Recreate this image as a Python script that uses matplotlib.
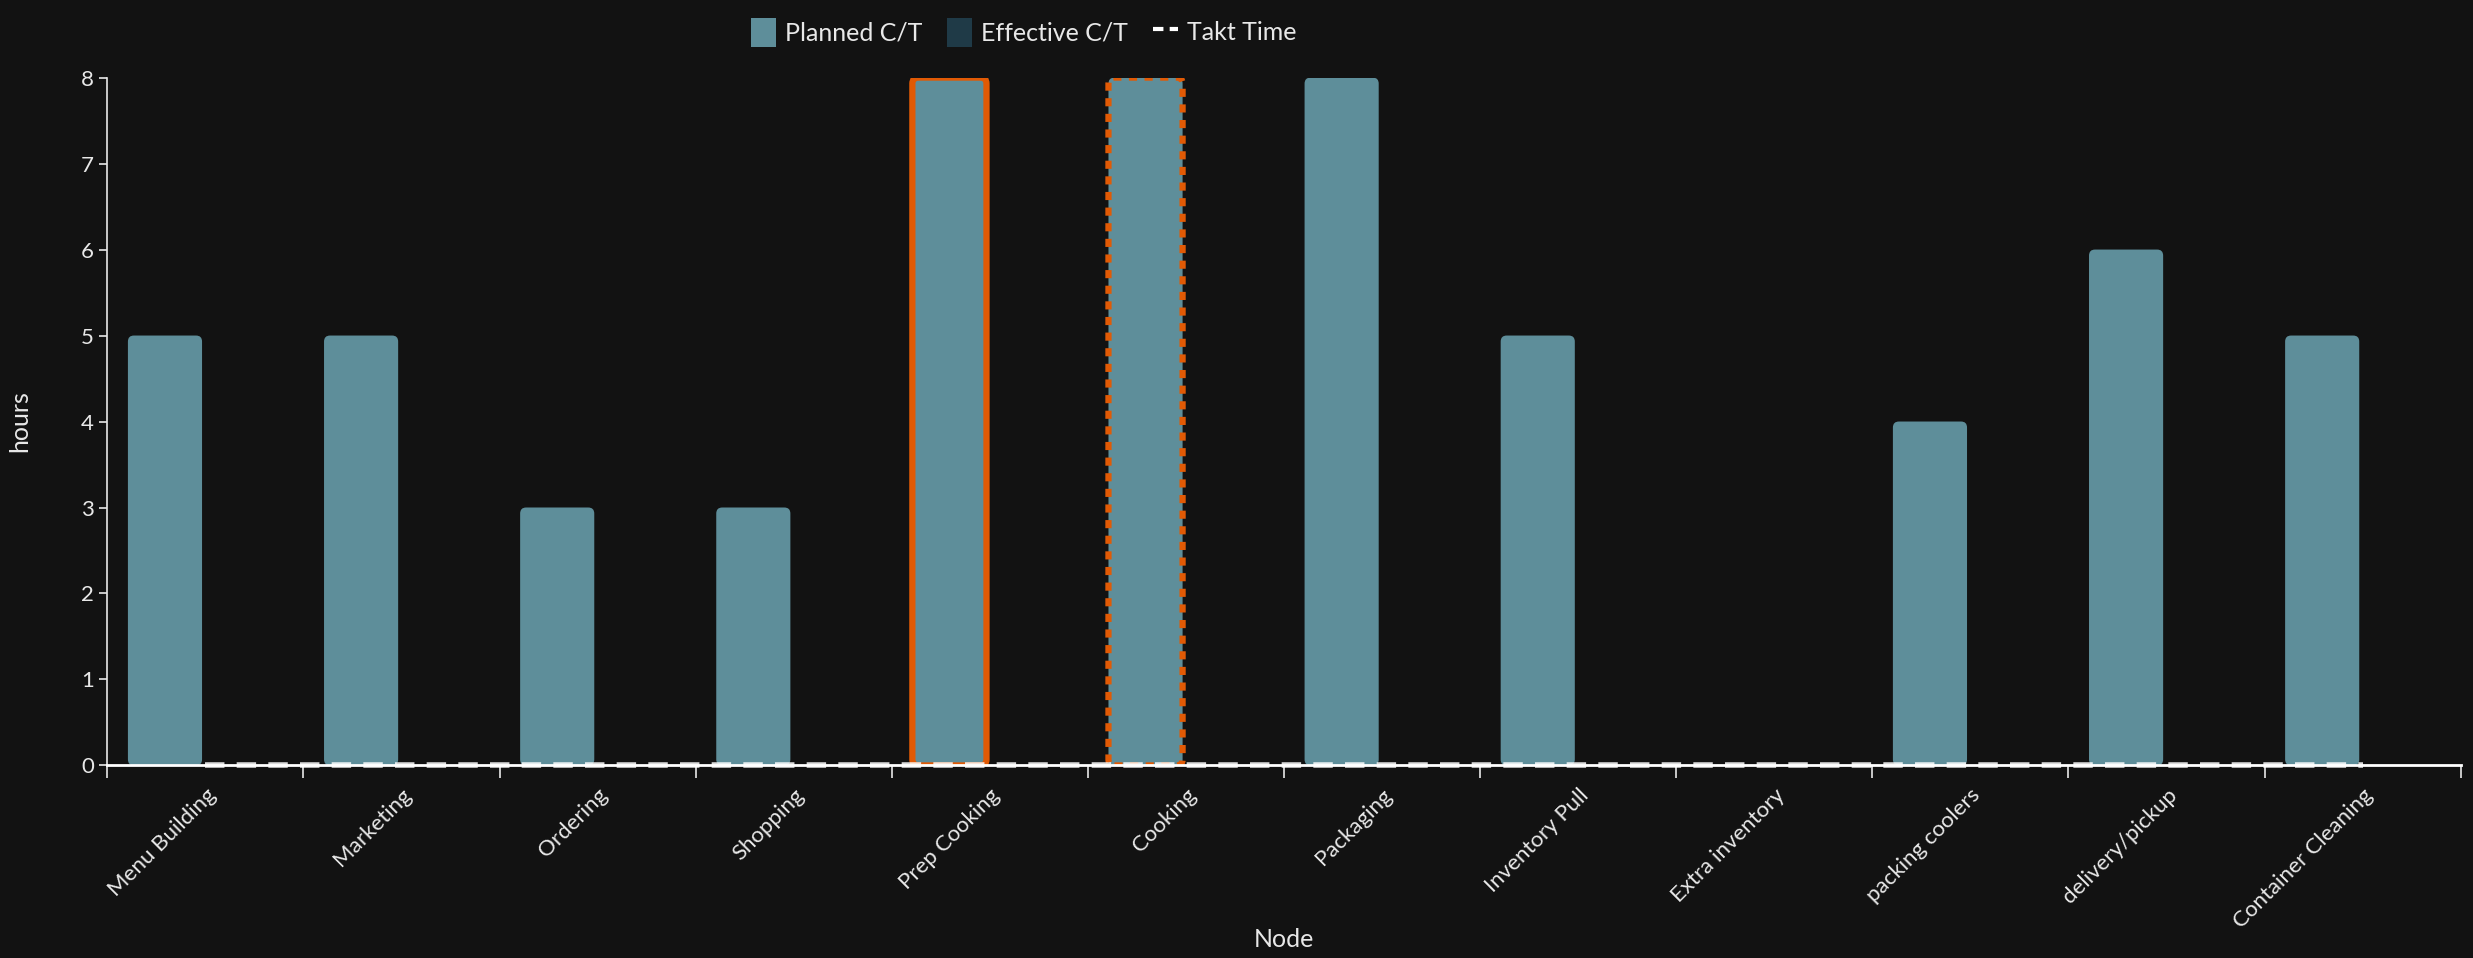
import numpy as np
import matplotlib
matplotlib.use("Agg")
import matplotlib.pyplot as plt
from matplotlib.patches import FancyBboxPatch, Patch
from matplotlib.lines import Line2D

plt.rcParams['font.family'] = ['Lato', 'DejaVu Sans']

nodes = ["Menu Building", "Marketing", "Ordering", "Shopping", "Prep Cooking",
         "Cooking", "Packaging", "Inventory Pull", "Extra inventory",
         "packing coolers", "delivery/pickup", "Container Cleaning"]
planned_ct = [5, 5, 3, 3, 8, 8, 8, 5, 0, 4, 6, 5]
effective_ct = [0, 0, 0, 0, 0, 0, 0, 0, 0, 0, 0, 0]
takt_time = [0, 0, 0, 0, 0, 0, 0, 0, 0, 0, 0, 0]
bottleneck = "Prep Cooking"
near_bottleneck = "Cooking"

BG = "#121212"
PLANNED = "#5e8e9a"
EFFECTIVE = "#1f3a47"
ALERT = "#e15a05"
FG = "#e8e8e8"

fig = plt.figure(figsize=(24.73, 9.58), dpi=100, facecolor=BG)
ax = fig.add_axes([0.0434, 0.201, 0.9516, 0.718])
ax.set_facecolor(BG)

n = len(nodes)
x = np.arange(n)
bar_w = 0.378
ax.set_xlim(-0.5, n - 0.5)
ax.set_ylim(0, 8)

# pixel -> data conversion, used for rounded corners
fig.canvas.draw()
bbox = ax.get_window_extent()
px_x = (n) / bbox.width
px_y = 8 / bbox.height
radius = 6 * px_x
aspect = px_y / px_x


def rounded_bar(x0, h, color, edge=None, ls="-"):
    if h <= 0:
        return
    p = FancyBboxPatch((x0, 0), bar_w, h,
                       boxstyle=f"round,pad=0,rounding_size={radius}",
                       mutation_aspect=aspect, facecolor=color,
                       edgecolor=edge if edge else "none",
                       linewidth=4.5 if edge else 0, linestyle=ls,
                       zorder=2)
    ax.add_patch(p)


for i, name in enumerate(nodes):
    edge, ls = None, "-"
    if name == bottleneck:
        edge = ALERT
    elif name == near_bottleneck:
        edge, ls = ALERT, (0, (1.3, 1.2))
    rounded_bar(x[i] - 0.395, planned_ct[i], PLANNED, edge, ls)
    rounded_bar(x[i] + 0.0, effective_ct[i], EFFECTIVE)

ax.plot(x, takt_time, color="white", lw=4, alpha=0.85,
        linestyle=(0, (3.5, 2.2)), zorder=4, clip_on=False)

# axes styling
for s in ["top", "right"]:
    ax.spines[s].set_visible(False)
ax.spines["left"].set_color(FG)
ax.spines["left"].set_linewidth(1.2)
ax.spines["bottom"].set_color("white")
ax.spines["bottom"].set_linewidth(2)
ax.spines["bottom"].set_zorder(3)

ax.set_yticks(range(0, 9))
ax.tick_params(axis="y", colors=FG, labelsize=16, length=6, width=1.2)

# boundary ticks on major, labels at band centres on minor
ax.set_xticks(np.arange(-0.5, n, 1.0))
ax.set_xticklabels([])
ax.tick_params(axis="x", which="major", colors=FG, length=9, width=1.2)
ax.set_xticks(x, minor=True)
ax.set_xticklabels(nodes, minor=True, rotation=45, ha="right",
                   rotation_mode="anchor", color=FG, fontsize=16)
ax.tick_params(axis="x", which="minor", length=0, pad=14)

ax.set_ylabel("hours", color=FG, fontsize=18, labelpad=36)
ax.set_xlabel("Node", color=FG, fontsize=18)
ax.xaxis.set_label_coords(0.5, -0.236)

handles = [
    Patch(facecolor=PLANNED, edgecolor="none"),
    Patch(facecolor=EFFECTIVE, edgecolor="none"),
    Line2D([0], [0], color="white", lw=3, linestyle=(0, (2.5, 1.5))),
]
fig.legend(handles, ["Planned C/T", "Effective C/T", "Takt Time"],
           loc="upper center", bbox_to_anchor=(0.414, 1.005), ncol=3,
           frameon=False, fontsize=18, labelcolor=FG, handlelength=1.0,
           handleheight=1.4, handletextpad=0.35, columnspacing=1.0)

fig.savefig("out.png", dpi=100, facecolor=BG)
